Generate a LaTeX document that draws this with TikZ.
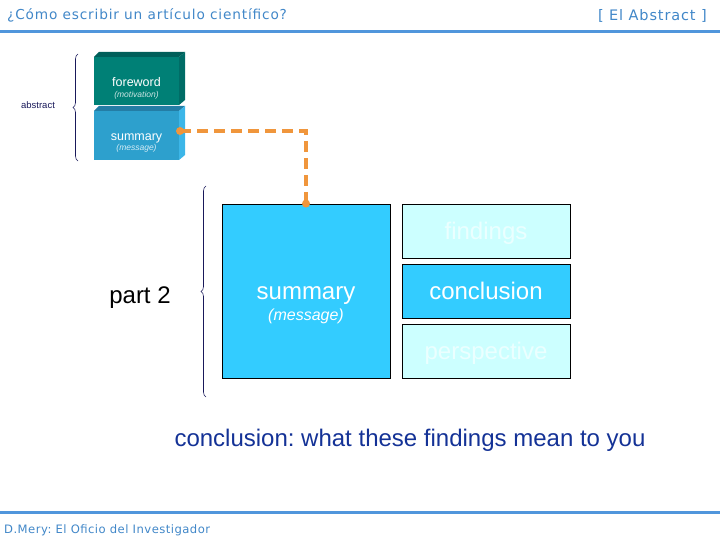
\documentclass[tikz,border=0pt]{standalone}
\usepackage{fontspec}
\setmainfont{Liberation Sans}
\newfontfamily\hdrfont[LetterSpace=6]{DejaVu Sans}
\newfontfamily\ftrfont[LetterSpace=4]{DejaVu Sans}
\usetikzlibrary{decorations.pathreplacing}
\frenchspacing
\definecolor{hdrblue}{RGB}{65,135,200}
\definecolor{linblue}{RGB}{80,150,220}
\definecolor{navy}{RGB}{25,25,90}
\definecolor{txtblue}{RGB}{20,50,150}
\definecolor{cyanbox}{RGB}{51,204,255}
\definecolor{lightbox}{RGB}{204,255,255}
\definecolor{ltext}{RGB}{235,255,255}
\definecolor{orng}{RGB}{240,150,60}
\definecolor{fwtop}{RGB}{0,95,90}
\definecolor{fwfront}{RGB}{0,128,118}
\definecolor{fwside}{RGB}{0,108,102}
\definecolor{smtop}{RGB}{35,125,165}
\definecolor{smfront}{RGB}{45,160,205}
\definecolor{smside}{RGB}{60,182,232}
\tikzset{
  box/.style={draw=black, line width=0.8pt, minimum width=168pt, inner sep=0pt},
  bigtxt/.style={font=\fontsize{24}{28}\selectfont, inner sep=0pt, anchor=base},
  midtxt/.style={font=\fontsize{16}{19}\selectfont\itshape, text=white, inner sep=0pt, anchor=base},
  smltxt/.style={font=\fontsize{12.5}{14}\selectfont, text=white, inner sep=0pt, anchor=base},
  tinytxt/.style={font=\fontsize{8.5}{10}\selectfont\itshape, inner sep=0pt, anchor=base},
  bracestyle/.style={draw=navy, line width=0.6pt, decorate, decoration={brace, amplitude=5pt}},
  dashline/.style={draw=orng, line width=4pt, dash pattern=on 11pt off 6pt},
  dotstyle/.style={circle, fill=orng, minimum size=8pt, inner sep=0pt}
}
\begin{document}
\begin{tikzpicture}[x=1pt,y=-1pt]
\useasboundingbox (0,0) rectangle (720,540);
% header
\node[anchor=base west, text=hdrblue, font=\hdrfont\fontsize{13.7}{15}\selectfont, inner sep=0pt] (title) at (7,20) {¿Cómo escribir un artículo científico?};
\node[anchor=base east, text=hdrblue, font=\hdrfont\fontsize{14.5}{16}\selectfont, inner sep=0pt] (section) at (707,21) {[ El Abstract ]};
\fill[linblue] (0,30.5) rectangle (720,33.5);
% footer
\fill[linblue] (0,510.5) rectangle (720,513.5);
\node[anchor=base west, text=hdrblue, font=\ftrfont\fontsize{11.6}{13}\selectfont, inner sep=0pt] (footer) at (4,533) {D.Mery: El Oficio del Investigador};
% abstract brace
\node[text=navy, font=\fontsize{9.5}{11}\selectfont, inner sep=0pt, anchor=base] (abslabel) at (38,109) {abstract};
\draw[bracestyle] (78,161) -- (78,54);
% foreword 3D box
\fill[fwtop] (94,57) -- (99,52) -- (185,52) -- (179,57) -- cycle;
\fill[fwfront] (94,57) rectangle (179,105);
\fill[fwside] (179,57) -- (185,52) -- (185,100) -- (179,105) -- cycle;
\node[smltxt] (fw) at (136.5,87) {foreword};
\node[tinytxt, text=white!80!fwfront] (fwsub) at (136.5,98) {(motivation)};
% summary 3D box
\fill[smtop] (94,111) -- (99,106) -- (185,106) -- (179,111) -- cycle;
\fill[smfront] (94,111) rectangle (179,160);
\fill[smside] (179,111) -- (185,106) -- (185,155) -- (179,160) -- cycle;
\node[smltxt] (sm) at (136.5,140.5) {summary};
\node[tinytxt, text=white!80!smfront] (smsub) at (136.5,151) {(message)};
\coordinate (sumdot) at (180,131);
% part 2
\node[bigtxt] (part) at (140,303) {part 2};
\draw[bracestyle] (206,397) -- (206,186);
% big box and right boxes
\node[box, fill=cyanbox, minimum height=174pt] (big) at (306,291) {};
\node[bigtxt, text=white] (bigsum) at (306,299.5) {summary};
\node[midtxt] (bigmsg) at (306,320) {(message)};
\node[box, fill=lightbox, minimum height=54pt] (find) at (486,231) {};
\node[box, fill=cyanbox, minimum height=54pt] (concl) at (486,291) {};
\node[box, fill=lightbox, minimum height=54pt] (persp) at (486,351) {};
\node[bigtxt, text=ltext] (findt) at (486,239.5) {findings};
\node[bigtxt, text=white] (conclt) at (486,299.5) {conclusion};
\node[bigtxt, text=ltext] (perspt) at (486,359.5) {perspective};
% connector
\draw[dashline] (sumdot) -| (big.north);
\node[dotstyle] (d1) at (sumdot) {};
\node[dotstyle] (d2) at (big.north) {};
% bottom sentence
\node[bigtxt, text=txtblue] (sentence) at (410,446) {conclusion: what these findings mean to you};
\end{tikzpicture}
\end{document}
